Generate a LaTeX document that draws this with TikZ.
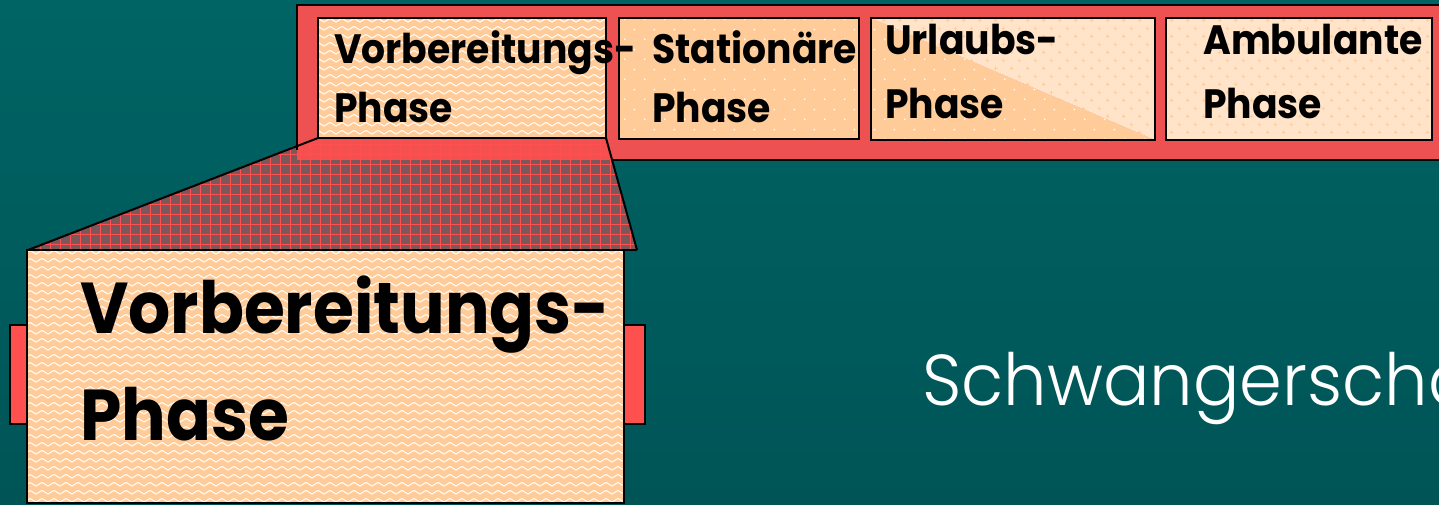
\documentclass[tikz,border=0pt]{standalone}
\usepackage{fontspec}
\setmainfont{Poppins}[FakeStretch=0.92]
\newfontfamily\lightfont{Poppins Light}[FakeStretch=0.955]
\usetikzlibrary{patterns}
\definecolor{redbg}{RGB}{255,80,80}
\definecolor{peach}{RGB}{255,204,153}
\definecolor{lightpeach}{RGB}{255,228,201}
\definecolor{plusc}{RGB}{255,200,145}
\definecolor{trapdark}{RGB}{125,88,90}
\definecolor{tealtop}{RGB}{0,100,100}
\definecolor{tealbot}{RGB}{0,84,86}
\pgfdeclarepatternformonly{zzpat}{\pgfqpoint{-1pt}{-1pt}}{\pgfqpoint{13pt}{9pt}}{\pgfqpoint{12pt}{8pt}}{%
  \pgfsetlinewidth{1pt}\pgfsetroundcap\pgfsetroundjoin
  \pgfpathmoveto{\pgfqpoint{0pt}{2pt}}\pgfpathlineto{\pgfqpoint{6pt}{5.5pt}}\pgfpathlineto{\pgfqpoint{12pt}{2pt}}\pgfusepath{stroke}}
\pgfdeclarepatternformonly{dotpat}{\pgfqpoint{0pt}{0pt}}{\pgfqpoint{20pt}{20pt}}{\pgfqpoint{20pt}{20pt}}{%
  \pgfpathcircle{\pgfqpoint{5pt}{5pt}}{1pt}\pgfpathcircle{\pgfqpoint{15pt}{15pt}}{1pt}\pgfusepath{fill}}
\pgfdeclarepatternformonly{pluspat}{\pgfqpoint{0pt}{0pt}}{\pgfqpoint{16pt}{16pt}}{\pgfqpoint{16pt}{16pt}}{%
  \pgfsetlinewidth{0.7pt}
  \pgfpathmoveto{\pgfqpoint{2pt}{4pt}}\pgfpathlineto{\pgfqpoint{6pt}{4pt}}
  \pgfpathmoveto{\pgfqpoint{4pt}{2pt}}\pgfpathlineto{\pgfqpoint{4pt}{6pt}}
  \pgfpathmoveto{\pgfqpoint{10pt}{12pt}}\pgfpathlineto{\pgfqpoint{14pt}{12pt}}
  \pgfpathmoveto{\pgfqpoint{12pt}{10pt}}\pgfpathlineto{\pgfqpoint{12pt}{14pt}}\pgfusepath{stroke}}
\pgfdeclarepatternformonly{gridpat}{\pgfqpoint{-0.5pt}{-0.5pt}}{\pgfqpoint{10.5pt}{10.5pt}}{\pgfqpoint{10pt}{10pt}}{%
  \pgfsetlinewidth{0.7pt}
  \pgfpathmoveto{\pgfqpoint{0pt}{0pt}}\pgfpathlineto{\pgfqpoint{10pt}{0pt}}
  \pgfpathmoveto{\pgfqpoint{0pt}{0pt}}\pgfpathlineto{\pgfqpoint{0pt}{10pt}}\pgfusepath{stroke}}
\begin{document}
\begin{tikzpicture}[x=1pt,y=-1pt,
  edge/.style={draw=black,line width=2pt},
  zzbox/.style={preaction={fill=peach},pattern=zzpat,pattern color=white,edge},
  dotfill/.style={preaction={fill=peach},pattern=dotpat,pattern color=white},
  plusfill/.style={preaction={fill=lightpeach},pattern=pluspat,pattern color=plusc},
  redbox/.style={fill=redbg,edge},
  small/.style={anchor=base west,inner sep=0pt,font=\bfseries\fontsize{41}{49}\selectfont},
  big/.style={anchor=base west,inner sep=0pt,font=\bfseries\fontsize{72}{86}\selectfont},
]
\useasboundingbox (0,0) rectangle (1439,504);
\clip (0,0) rectangle (1439,504);
\shade[top color=tealtop,bottom color=tealbot] (0,0) rectangle (1439,504);
% zoom trapezoid
\path[fill=trapdark] (318,138)--(606,138)--(637,250)--(28,250)--cycle;
\path[pattern=gridpat,pattern color=redbg] (318,138)--(606,138)--(637,250)--(28,250)--cycle;
% banner
\path[fill=redbg,fill opacity=0.93] (297,5) rectangle (1450,160);
\draw[line width=2.5pt] (297,150)--(297,5)--(1450,5);
\draw[line width=2.5pt] (612,160)--(1450,160);
\draw[line width=2pt] (318,138)--(28,250);
\draw[line width=2pt] (606,138)--(637,250);
\draw[line width=2pt] (28,250)--(637,250);
% small boxes
\draw[zzbox] (318,18) rectangle (606,138);
\draw[dotfill] (619,18) rectangle (859,139);
\draw[edge] (619,18) rectangle (859,139);
\path[dotfill] (871,18)--(1155,140)--(871,140)--cycle;
\path[plusfill] (871,18)--(1155,18)--(1155,140)--cycle;
\draw[edge] (871,18) rectangle (1155,140);
\draw[plusfill,edge] (1166,18) rectangle (1432,140);
% big box
\draw[redbox] (10,325) rectangle (645,424);
\draw[zzbox] (27,250) rectangle (624,503);
% texts
\node[small] (v1) at (334,63) {Vorbereitungs-};
\node[small] (v2) at (334,122) {Phase};
\node[small] (s1) at (652,63) {Stationäre};
\node[small] (s2) at (652,122) {Phase};
\node[small] (u1) at (885,54) {Urlaubs-};
\node[small] (u2) at (885,118) {Phase};
\node[small] (a1) at (1203,54) {Ambulante};
\node[small] (a2) at (1203,118) {Phase};
\node[big] (b1) at (80,333) {Vorbereitungs-};
\node[big] (b2) at (80,440) {Phase};
\node[anchor=base west,inner sep=0pt,text=white,font=\lightfont\fontsize{72}{86}\selectfont] (sw) at (922,405) {Schwangerschaft};
\end{tikzpicture}
\end{document}
